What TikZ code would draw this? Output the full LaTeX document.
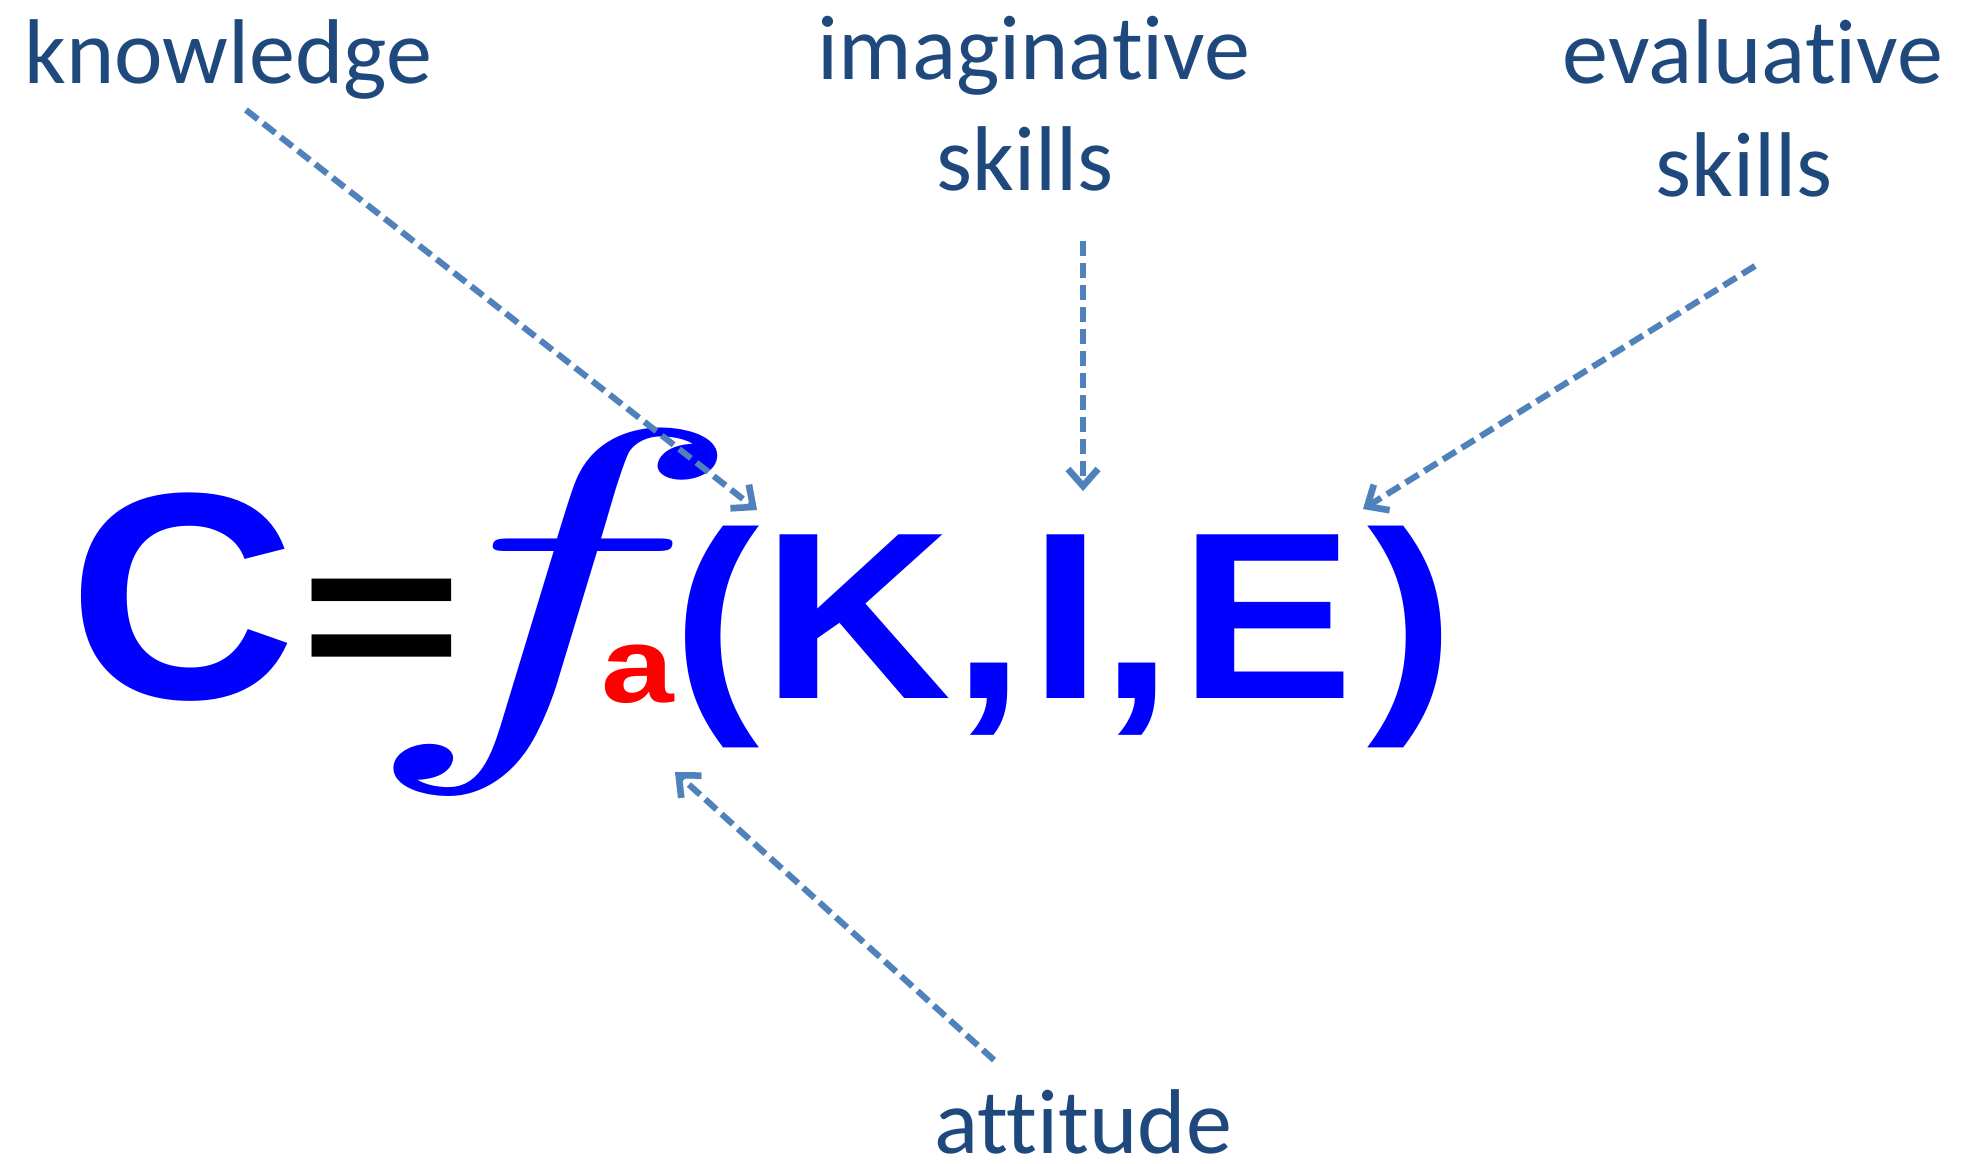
\documentclass[tikz,border=0pt]{standalone}
\usepackage{fontspec}
\setmainfont{Carlito}[Ligatures={NoCommon}]
\newfontfamily\arialbold{Liberation Sans}[BoldFont={* Bold}]
\usetikzlibrary{arrows.meta}
\definecolor{labelblue}{RGB}{31,73,125}
\definecolor{arrowblue}{RGB}{79,129,189}
\definecolor{eqblue}{RGB}{0,0,255}
\definecolor{eqred}{RGB}{255,0,0}
\tikzset{
  lbl/.style={anchor=base, text=labelblue, inner sep=0pt, text depth=0pt, font=\fontsize{92}{110}\selectfont},
  eqtxt/.style={anchor=base west, inner sep=0pt},
  ptr/.style={draw=arrowblue, line width=6pt, dash pattern=on 15pt off 7pt,
    -{Straight Barb[length=17pt, width=30pt, line width=6.5pt]}},
  ptrshadow/.style={draw=black, opacity=0.15, line width=6.5pt, dash pattern=on 15pt off 7pt,
    -{Straight Barb[length=17pt, width=30pt, line width=7pt]}}
}
\begin{document}
\begin{tikzpicture}[x=1pt, y=-1pt]
\useasboundingbox (0,0) rectangle (1961,1163);
% labels
\node[lbl] (know) at (228,83) {knowledge};
\node[lbl] (imag1) at (1034,79) {imaginative};
\node[lbl] (imag2) at (1025,190) {skills};
\node[lbl] (eval1) at (1753,83) {evaluative};
\node[lbl] (eval2) at (1744,196) {skills};
\node[lbl] (att) at (1083,1153) {attitude};
% equation
\node[eqtxt, text=eqblue, xscale=1.072, font=\arialbold\bfseries\fontsize{294.5}{300}\selectfont] (C) at (68.5,698) {C};
\node[eqtxt, text=black, xscale=1.21, yscale=0.898, font=\arialbold\bfseries\fontsize{230}{250}\selectfont] (eq) at (300,686.6) {=};
\node[anchor=center, inner sep=0pt, text=eqblue, xscale=64.9, yscale=40.5] (f) at (553.5,612.5) {$f$};
\node[eqtxt, text=eqred, xscale=1.22, font=\arialbold\bfseries\fontsize{107}{120}\selectfont] (a) at (601.6,702) {a};
\node[eqtxt, text=eqblue, xscale=1.10, font=\arialbold\bfseries\fontsize{238}{250}\selectfont] (kie) at (672,698)
  {(\hspace{3pt}K\hspace{1pt},\hspace{4pt}I\hspace{-2pt},\hspace{6pt}E\hspace{12pt})};
% connector end points
\coordinate (kS) at (246,110);  \coordinate (kE) at (757,510);
\coordinate (iS) at (1083,241); \coordinate (iE) at (1083,491);
\coordinate (eS) at (1755,266); \coordinate (eE) at (1363,509);
\coordinate (aS) at (994,1060); \coordinate (aE) at (675,772);
% shadows
\begin{scope}[shift={(2,3)}]
\draw[ptrshadow] (kS) -- (kE);
\draw[ptrshadow] (iS) -- (iE);
\draw[ptrshadow] (eS) -- (eE);
\draw[ptrshadow] (aS) -- (aE);
\end{scope}
% arrows
\draw[ptr] (kS) -- (kE);
\draw[ptr] (iS) -- (iE);
\draw[ptr] (eS) -- (eE);
\draw[ptr] (aS) -- (aE);
\end{tikzpicture}
\end{document}
